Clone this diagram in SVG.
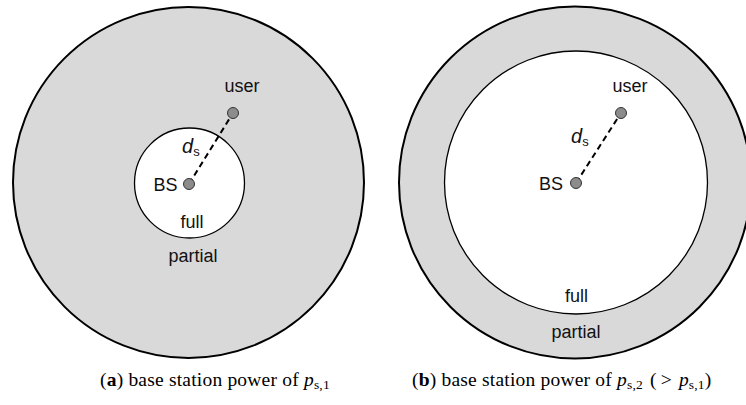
<svg xmlns="http://www.w3.org/2000/svg" width="746" height="405" viewBox="0 0 746 405">
<style>
.outer{fill:#d9d9d9;stroke:#000;stroke-width:2}
.inner{fill:#fff;stroke:#000;stroke-width:1.3}
.dot{fill:#8c8c8c;stroke:#333;stroke-width:1}
.lbl{font-family:"Liberation Sans",Arial,sans-serif;font-size:18px;fill:#111}
.it{font-style:italic;font-size:20px}
.sub{font-size:13px}
.cap{font-family:"Liberation Serif","Times New Roman",serif;font-size:19.5px;fill:#000;letter-spacing:0.2px}
.link{stroke:#000;stroke-width:2;stroke-dasharray:6 4;fill:none}
</style>
<rect width="746" height="405" fill="#fff"/>
<g id="panel-a">
  <g id="a-partial"><circle class="outer" cx="188.5" cy="182.5" r="175.5"/><text class="lbl" x="193" y="262" text-anchor="middle">partial</text></g>
  <g id="a-full"><circle class="inner" cx="189.5" cy="183" r="55"/><text class="lbl" x="192" y="227.5" text-anchor="middle">full</text></g>
</g>
<g id="panel-b">
  <g id="b-partial"><circle class="outer" cx="575" cy="182.5" r="176"/><text class="lbl" x="576" y="338" text-anchor="middle">partial</text></g>
  <g id="b-full"><circle class="inner" cx="576" cy="182.5" r="131.5"/><text class="lbl" x="576.5" y="302" text-anchor="middle">full</text></g>
</g>
<g id="connectors">
  <line class="link" x1="189" y1="184" x2="233" y2="113"/>
  <line class="link" x1="576" y1="183" x2="621" y2="113"/>
</g>
<g id="a-bs"><circle class="dot" cx="189" cy="184" r="5.5"/><text class="lbl" x="177.5" y="191" text-anchor="end">BS</text></g>
<g id="a-user"><circle class="dot" cx="233" cy="113" r="5.5"/><text class="lbl" x="242" y="92" text-anchor="middle">user</text></g>
<g id="a-ds"><text class="lbl" x="182" y="153"><tspan class="it">d</tspan><tspan class="sub" dy="3">s</tspan></text></g>
<g id="b-bs"><circle class="dot" cx="576" cy="183" r="5.5"/><text class="lbl" x="563" y="190" text-anchor="end">BS</text></g>
<g id="b-user"><circle class="dot" cx="621" cy="113" r="5.5"/><text class="lbl" x="630" y="92" text-anchor="middle">user</text></g>
<g id="b-ds"><text class="lbl" x="571" y="143"><tspan class="it">d</tspan><tspan class="sub" dy="3">s</tspan></text></g>
<g id="captions">
  <text class="cap" x="100" y="386">(<tspan font-weight="bold">a</tspan>) base station power of <tspan font-style="italic">p</tspan><tspan font-size="13.5" dy="3">s,1</tspan></text>
  <text class="cap" x="412" y="386">(<tspan font-weight="bold">b</tspan>) base station power of <tspan font-style="italic">p</tspan><tspan font-size="13.5" dy="3">s,2</tspan><tspan dy="-3" dx="7">(</tspan><tspan dx="4">&gt;</tspan><tspan dx="7" font-style="italic">p</tspan><tspan font-size="13.5" dy="3">s,1</tspan><tspan dy="-3">)</tspan></text>
</g>
</svg>
